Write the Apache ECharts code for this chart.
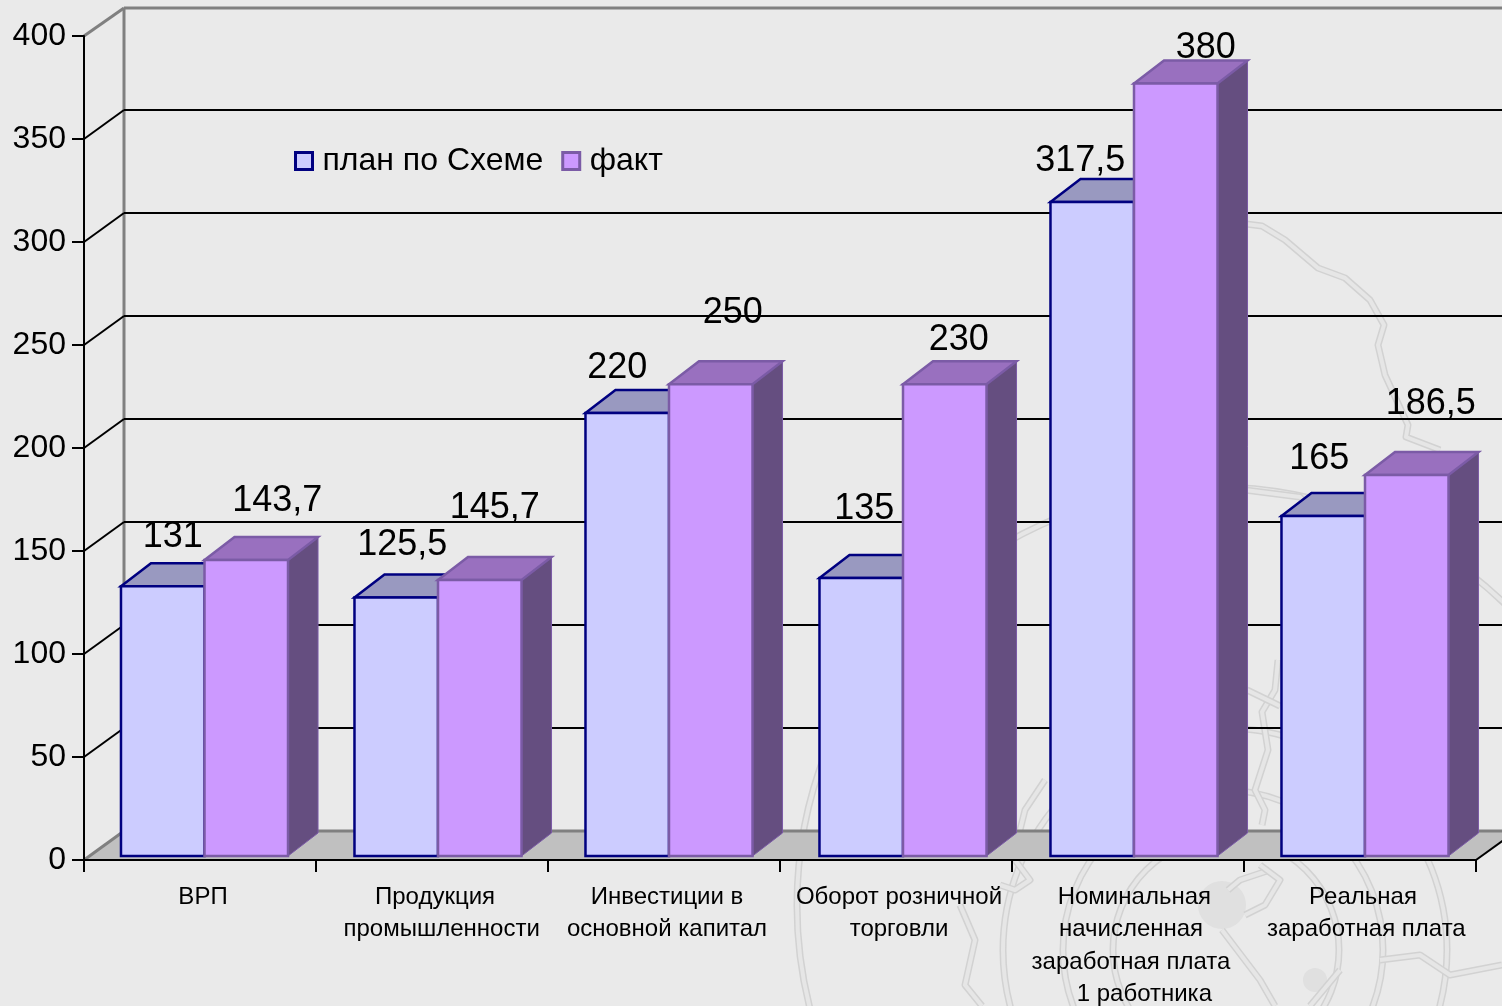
<!DOCTYPE html>
<html><head><meta charset="utf-8">
<style>html,body{margin:0;padding:0;background:#eaeaea;overflow:hidden}#c{width:1502px;height:1006px}</style>
<script src="https://cdn.jsdelivr.net/npm/echarts@6/dist/echarts.min.js"></script>
</head><body><div id="c"></div>
<script>
const categories = ['ВРП','Продукция\n  промышленности','Инвестиции в\nосновной капитал','Оборот розничной\nторговли',' Номинальная\nначисленная\nзаработная плата\n    1 работника','Реальная\n заработная плата'];
const planValues = [131,125.5,215,135,317.5,165];
const factValues = [143.7,134,229,229,375,185];
const planLabels = ['131','125,5','220','135','317,5','165'];
const factLabels = ['143,7','145,7','250','230','380','186,5'];
const yTicks = [0,50,100,150,200,250,300,350,400];
const barShift = [4.5,6,5,7,6,5];
const planLabelNudge = [[10,-49],[6,-52],[-10,-45],[3,-69],[-12,-41],[-4,-57]];
const factLabelNudge = [[31,-59],[15,-72],[22,-71],[14,-44],[30,-35],[24,-71]];

const FONT = '"Liberation Sans", Arial, sans-serif';
const WALL_DX = 40, WALL_DY = -29, BAR_DX = 30, BAR_DY = -23, BASE = -4;
const faint = '#d2d2d2';

function ring(cx, cy, r){
  return [
    {type:'circle',shape:{cx,cy,r},style:{fill:null,stroke:faint,lineWidth:7},silent:true},
    {type:'circle',shape:{cx,cy,r},style:{fill:null,stroke:'#e6e6e6',lineWidth:4},silent:true}
  ];
}
function river(points){
  return [
    {type:'polyline',shape:{points},style:{fill:null,stroke:faint,lineWidth:7,lineJoin:'round'},silent:true},
    {type:'polyline',shape:{points},style:{fill:null,stroke:'#e6e6e6',lineWidth:4,lineJoin:'round'},silent:true}
  ];
}
const decor = [
  ...ring(1215,905,418), ...ring(1225,950,222), ...ring(1223,950,160), ...ring(1226,950,113),
  {type:'circle',shape:{cx:1222,cy:905,r:24},style:{fill:'#e0e0e0'},silent:true},
  {type:'circle',shape:{cx:1315,cy:980,r:12},style:{fill:'#e0e0e0'},silent:true},
  ...river([[1246,224],[1262,226],[1285,240],[1318,268],[1345,278],[1370,300],[1384,325],[1378,345],[1385,375],[1408,425],[1406,437],[1440,450]]),
  ...river([[1245,490],[1300,497],[1312,510]]),
  ...river([[1278,660],[1275,690],[1262,712],[1268,750],[1255,790],[1265,810],[1262,825]]),
  ...river([[1247,690],[1280,706]]),
  ...river([[1270,870],[1240,880],[1228,890]]),
  ...river([[1245,915],[1265,905],[1280,880],[1260,865]]),
  ...river([[1222,930],[1260,980],[1275,1006]]),
  ...river([[1380,960],[1420,955],[1450,975],[1502,965]]),
  ...river([[1340,970],[1310,1006]]),
  ...river([[1045,780],[1025,810],[1020,830]]),
  ...river([[1015,860],[1030,880],[1015,890],[1000,885]]),
  ...river([[960,905],[975,940],[965,985],[982,1006]])
];

function barSeries(name, values, front, top, side, border, sign){
  return {
    type:'custom', name, z:3, clip:false,
    itemStyle:{color:front,borderColor:border,borderWidth:3},
    data:values.map((v,i)=>[i,v]),
    renderItem(params, api){
      const t = api.coord([api.value(0), api.value(1)]);
      const b = api.coord([api.value(0), 0]);
      const w = api.size([1,0])[0]*0.36;
      const xc = t[0]+barShift[params.dataIndex];
      const x0 = sign<0 ? xc-w : xc, x1 = x0+w;
      const yT = t[1]+BASE, yB = b[1]+BASE;
      const line = {stroke:border,lineWidth:2.5,lineJoin:'miter'};
      return {type:'group',children:[
        {type:'polygon',shape:{points:[[x1,yT],[x1+BAR_DX,yT+BAR_DY],[x1+BAR_DX,yB+BAR_DY],[x1,yB]]},style:{fill:side,stroke:border,lineWidth:1}},
        {type:'polygon',shape:{points:[[x0,yT],[x0+BAR_DX,yT+BAR_DY],[x1+BAR_DX,yT+BAR_DY],[x1,yT]]},style:{fill:top,...line}},
        {type:'rect',shape:{x:x0,y:yT,width:w,height:yB-yT},style:{fill:front,...line}}
      ]};
    }
  };
}
function labelSeries(name, values, labels, nudges, sign){
  return {
    type:'custom', name, z:6, clip:false, silent:true,
    data:values.map((v,i)=>[i,v]),
    renderItem(params, api){
      const i = params.dataIndex;
      const t = api.coord([api.value(0), api.value(1)]);
      const w = api.size([1,0])[0]*0.36;
      const xc = t[0]+barShift[i]+sign*w/2;
      return {type:'text',style:{
        text:labels[i],x:xc+nudges[i][0],y:t[1]+BASE+nudges[i][1],
        fill:'#000',font:'36px '+FONT,textAlign:'center',textVerticalAlign:'middle'}};
    }
  };
}
const wallSeries = {
  type:'custom', name:'wall', z:1, clip:false, silent:true,
  data:yTicks.map(v=>[0,v]),
  renderItem(params, api){
    const v = api.value(1);
    const y = api.coord([0,v])[1];
    const cs = params.coordSys;
    const xL = cs.x, xB = cs.x+WALL_DX, xR = cs.x+cs.width+WALL_DX, yB = y+WALL_DY+(v===400?1:0);
    const col = (v===0||v===400) ? '#808080' : '#000';
    const lw = (v===0||v===400) ? 3 : 2;
    const kids = [];
    if(v===0){
      kids.push({type:'polygon',shape:{points:[[xL,y],[xB,yB],[xR,yB],[xR-WALL_DX,y]]},style:{fill:'#c0c0c0'}});
      kids.push({type:'line',shape:{x1:xR-WALL_DX,y1:y,x2:xR,y2:yB},style:{stroke:'#000',lineWidth:2}});
      kids.push({type:'line',shape:{x1:xB,y1:cs.y+WALL_DY+1,x2:xB,y2:yB},style:{stroke:'#808080',lineWidth:3}});
    }
    kids.push({type:'line',shape:{x1:xL,y1:y,x2:xB,y2:yB},style:{stroke:col,lineWidth:lw}});
    kids.push({type:'line',shape:{x1:xB,y1:yB,x2:xR,y2:yB},style:{stroke:col,lineWidth:lw}});
    return {type:'group',children:kids};
  }
};
const chart = echarts.init(document.getElementById('c'),null,{renderer:'canvas'});
chart.setOption({
  backgroundColor:'#eaeaea',
  animation:false,
  textStyle:{fontFamily:FONT},
  graphic:{elements:decor.map(d=>Object.assign({z:-10},d))},
  grid:{left:84,top:36,width:1392,height:824,containLabel:false,outerBoundsMode:'none'},
  legend:{left:289,top:140,itemWidth:17,itemHeight:17,itemGap:18,icon:'rect',
    data:['план по Схеме','факт'],
    itemStyle:{borderWidth:3},
    textStyle:{fontFamily:FONT,fontSize:32,color:'#000',padding:[0,0,0,5]}},
  xAxis:{type:'category',data:categories,z:5,
    axisLine:{lineStyle:{color:'#000',width:2}},
    axisTick:{show:true,length:12,lineStyle:{color:'#000',width:2},alignWithLabel:false},
    axisLabel:{interval:0,color:'#000',fontFamily:FONT,fontSize:24,lineHeight:32.5,margin:21,padding:[0,0,0,6],hideOverlap:false},
    splitLine:{show:false}},
  yAxis:{type:'value',min:0,max:400,interval:50,z:5,
    axisLine:{show:true,lineStyle:{color:'#000',width:2}},
    axisTick:{show:true,length:12,lineStyle:{color:'#000',width:2}},
    axisLabel:{color:'#000',fontFamily:FONT,fontSize:32,margin:18,padding:[4,0,0,0]},
    splitLine:{show:false}},
  series:[
    wallSeries,
    barSeries('план по Схеме',planValues,'#ccccff','#9999c0','#666680','#000080',-1),
    barSeries('факт',factValues,'#cc99ff','#9970bf','#654e80','#7b5ba6',1),
    labelSeries('planLabels',planValues,planLabels,planLabelNudge,-1),
    labelSeries('factLabels',factValues,factLabels,factLabelNudge,1)
  ]
});
</script></body></html>
